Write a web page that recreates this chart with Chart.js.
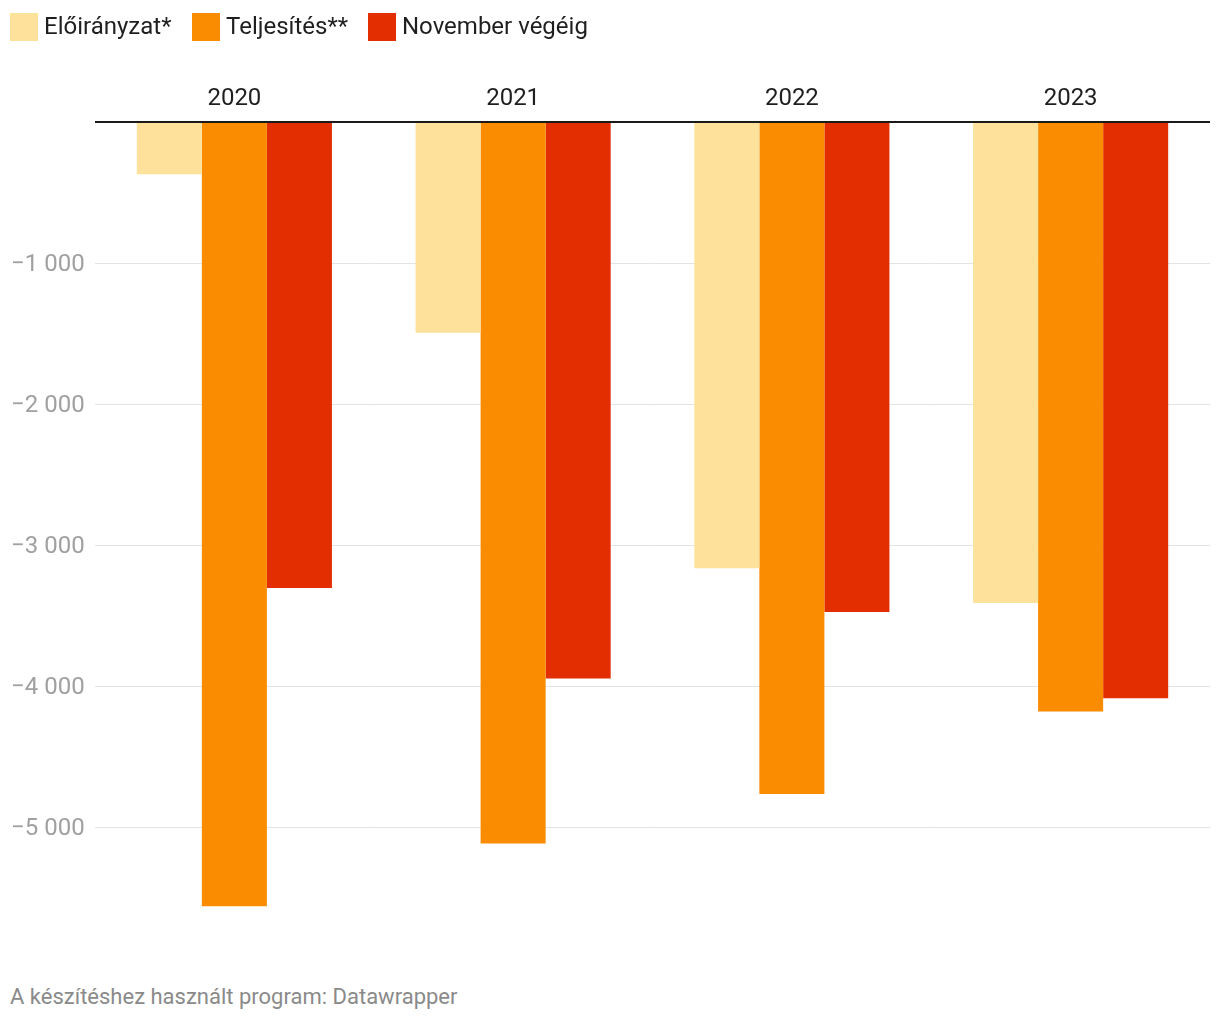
<!DOCTYPE html>
<html>
<head>
<meta charset="utf-8">
<script src="https://cdn.jsdelivr.net/npm/chart.js@4/dist/chart.umd.min.js"></script>
<style>
  html, body { margin: 0; padding: 0; background: #fff; }
  body { width: 1220px; height: 1020px; position: relative; overflow: hidden; font-family: Roboto, sans-serif; }
  #legend { position: absolute; left: 0; top: 0; height: 56px; width: 1220px; }
  .item { position: absolute; top: 13px; height: 28px; font-size: 24px; line-height: 28px; color: #1f1f1f; white-space: nowrap; }
  .box { position: absolute; left: 0; top: 0; width: 28px; height: 28px; }
  .lbl { position: absolute; left: 34px; top: -1px; }
  #wrap { position: absolute; left: 0; top: 0; width: 1220px; height: 945px; }
  #footer { position: absolute; left: 10px; top: 983px; font-size: 22px; line-height: 28px; color: #8a8a8a; white-space: nowrap; }
</style>
</head>
<body>
<div id="wrap"><canvas id="c"></canvas></div>
<div id="legend"></div>
<div id="footer">A készítéshez használt program: Datawrapper</div>
<script>
const categories = ['2020', '2021', '2022', '2023'];
const seriesNames = ['Előirányzat*', 'Teljesítés**', 'November végéig'];
const eloiranyzat = [-370, -1495, -3165, -3410];
const teljesites = [-5560, -5115, -4765, -4180];
const novemberVegeig = [-3305, -3945, -3475, -4085];
const yTicks = [-1000, -2000, -3000, -4000, -5000];
const colors = ['#FEE29B', '#F98C00', '#E22E00'];

const legendX = [10, 192, 368];
const legendEl = document.getElementById('legend');
seriesNames.forEach((n, i) => {
  const d = document.createElement('div');
  d.className = 'item';
  d.style.left = legendX[i] + 'px';
  d.innerHTML = '<div class="box" style="background:' + colors[i] + '"></div><span class="lbl">' + n + '</span>';
  legendEl.appendChild(d);
});

function fmt(v) {
  return (v < 0 ? '\u2212' : '') + String(Math.abs(v)).replace(/\B(?=(\d{3})+(?!\d))/g, ' ');
}

const zeroLine = {
  id: 'zeroLine',
  afterDatasetsDraw(chart) {
    const y = chart.scales.y.getPixelForValue(0);
    const ctx = chart.ctx;
    ctx.save();
    ctx.strokeStyle = '#1a1a1a';
    ctx.lineWidth = 2;
    ctx.beginPath();
    ctx.moveTo(chart.chartArea.left, y);
    ctx.lineTo(chart.chartArea.right, y);
    ctx.stroke();
    ctx.restore();
  }
};

Chart.defaults.font.family = 'Roboto, sans-serif';
new Chart(document.getElementById('c'), {
  type: 'bar',
  data: {
    labels: categories,
    datasets: [
      { label: seriesNames[0], data: eloiranyzat, backgroundColor: colors[0] },
      { label: seriesNames[1], data: teljesites, backgroundColor: colors[1] },
      { label: seriesNames[2], data: novemberVegeig, backgroundColor: colors[2] }
    ]
  },
  options: {
    responsive: true,
    maintainAspectRatio: false,
    animation: false,
    layout: { padding: { left: 11, right: 10, top: 0, bottom: 5 } },
    datasets: { bar: { categoryPercentage: 0.7, barPercentage: 1.0, borderWidth: 0 } },
    plugins: { legend: { display: false }, tooltip: { enabled: false } },
    scales: {
      x: {
        position: 'top',
        grid: { display: false, drawTicks: false },
        border: { display: false },
        ticks: { color: '#1f1f1f', font: { size: 24 }, padding: 9, maxRotation: 0 },
        afterFit(s) { s.height = 122; }
      },
      y: {
        min: -5800,
        max: 0,
        afterBuildTicks(s) { s.ticks = [0].concat(yTicks).map(v => ({ value: v })); },
        grid: {
          drawTicks: false,
          color: ctx => (ctx.tick && ctx.tick.value === 0) ? 'rgba(0,0,0,0)' : '#e3e3e3',
          lineWidth: 1
        },
        border: { display: false },
        ticks: {
          color: '#a0a0a0',
          font: { size: 24 },
          crossAlign: 'far',
          padding: 0,
          labelOffset: 2,
          callback: v => v === 0 ? '' : fmt(v)
        },
        afterFit(s) { s.width = 84; s.paddingTop = 0; s.paddingBottom = 0; }
      }
    }
  },
  plugins: [zeroLine]
});
</script>
</body>
</html>
